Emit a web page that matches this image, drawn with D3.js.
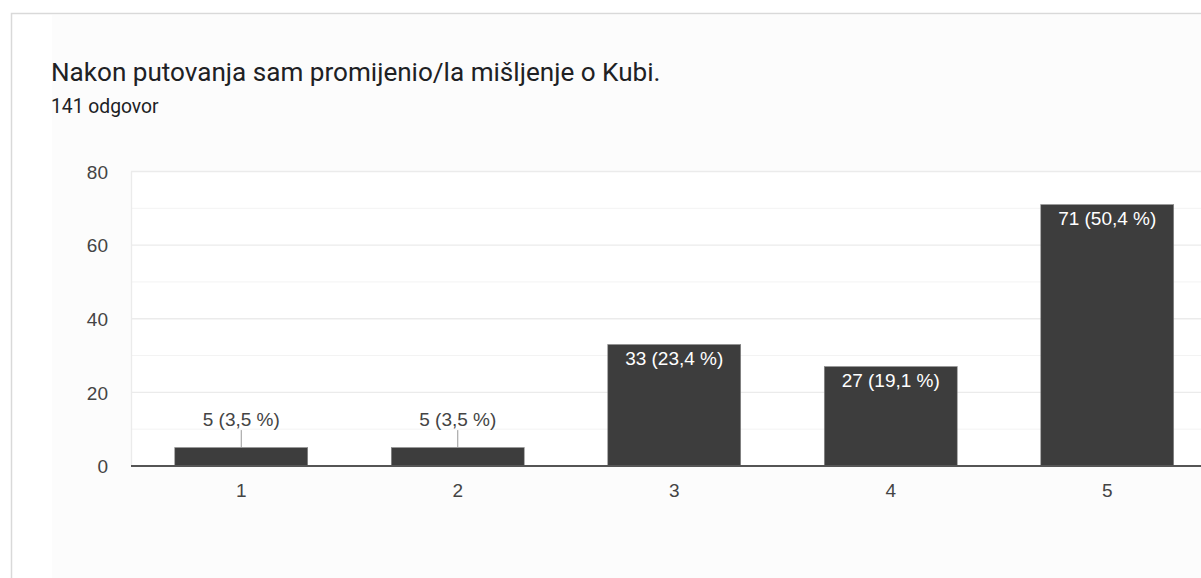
<!DOCTYPE html>
<html><head><meta charset="utf-8">
<script src="https://cdn.jsdelivr.net/npm/d3@7"></script>
<style>html,body{margin:0;padding:0;background:#fff;overflow:hidden}</style>
</head><body>
<svg id="c" width="1201" height="578"></svg>
<script>
const title = "Nakon putovanja sam promijenio/la mišljenje o Kubi.";
const subtitle = "141 odgovor";
const categories = ["1","2","3","4","5"];
const counts = [5,5,33,27,71];
const percents = ["3,5","3,5","23,4","19,1","50,4"];
const yTicks = [0,20,40,60,80];
const yMinor = [10,30,50,70];

const svg = d3.select("#c");
// card
svg.append("rect").attr("x",11.5).attr("y",13.5).attr("width",1300).attr("height",700)
  .attr("fill","#ffffff").attr("stroke","#d9d9d9").attr("stroke-width",1.5);
svg.append("rect").attr("x",52).attr("y",15).attr("width",1200).attr("height",700).attr("fill","#fcfcfc");

svg.append("text").attr("x",51).attr("y",81).text(title)
  .attr("font-family","Roboto, sans-serif").attr("font-size",26.1).attr("fill","#202124");
svg.append("text").attr("x",51).attr("y",113).text(subtitle)
  .attr("font-family","Roboto, sans-serif").attr("font-size",19.3).attr("fill","#202124");

const left = 131;
const x = d3.scaleBand().domain(categories).range([133, 133+5*216.5]).paddingInner(0.386).paddingOuter(0.193);
const y = d3.scaleLinear().domain([0,80]).range([466,171.5]);

const g = svg.append("g");
g.append("rect").attr("x",left).attr("y",y(80)).attr("width",1201-left).attr("height",y(0)-y(80)).attr("fill","#ffffff");
g.selectAll("line.minor").data(yMinor).join("line").attr("class","minor")
  .attr("x1",left).attr("x2",1201).attr("y1",d=>y(d)).attr("y2",d=>y(d))
  .attr("stroke","#f3f3f3").attr("stroke-width",1);
g.selectAll("line.major").data(yTicks.filter(d=>d>0)).join("line").attr("class","major")
  .attr("x1",left).attr("x2",1201).attr("y1",d=>y(d)).attr("y2",d=>y(d))
  .attr("stroke","#ebebeb").attr("stroke-width",1.3);
g.append("line").attr("x1",left+0.5).attr("x2",left+0.5).attr("y1",y(80)).attr("y2",y(0))
  .attr("stroke","#ebebeb").attr("stroke-width",1.3);

const fontLab = "'Liberation Sans', Arial, sans-serif";
// y axis labels
const yAxis = d3.axisLeft(y).tickValues(yTicks).tickSize(0).tickPadding(0);
const ya = svg.append("g").attr("transform",`translate(108,0)`).call(yAxis);
ya.select(".domain").remove();
ya.selectAll("text").attr("font-family",fontLab).attr("font-size",19).attr("fill","#444").attr("dy","0.36em");

// bars
const data = categories.map((c,i)=>({c, v:counts[i], p:percents[i]}));
g.selectAll("rect.bar").data(data).join("rect").attr("class","bar")
  .attr("x",d=>x(d.c)).attr("width",x.bandwidth())
  .attr("y",d=>y(d.v)).attr("height",d=>y(0)-y(d.v))
  .attr("fill","#3d3d3d").attr("stroke","#8a8a8a").attr("stroke-width",0.6);

// baseline
g.append("line").attr("x1",left).attr("x2",1201).attr("y1",y(0)).attr("y2",y(0))
  .attr("stroke","#555").attr("stroke-width",2);

// labels
data.forEach(d=>{
  const cx = x(d.c)+x.bandwidth()/2;
  const txt = `${d.v} (${d.p} %)`;
  if (d.v < 15) {
    g.append("line").attr("x1",cx).attr("x2",cx).attr("y1",y(d.v)-17.5).attr("y2",y(d.v))
      .attr("stroke","#999").attr("stroke-width",1);
    g.append("text").attr("x",cx).attr("y",y(d.v)-21.5).attr("text-anchor","middle").text(txt)
      .attr("font-family",fontLab).attr("font-size",19).attr("fill","#444");
  } else {
    g.append("text").attr("x",cx).attr("y",y(d.v)+20.5).attr("text-anchor","middle").text(txt)
      .attr("font-family",fontLab).attr("font-size",19).attr("fill","#ffffff");
  }
});

// x axis
const xAxis = d3.axisBottom(x).tickSize(0).tickPadding(0);
const xa = svg.append("g").attr("transform",`translate(0,${y(0)})`).call(xAxis);
xa.select(".domain").remove();
xa.selectAll("text").attr("font-family",fontLab).attr("font-size",19).attr("fill","#444").attr("dy","0").attr("y",31);
</script>
</body></html>
